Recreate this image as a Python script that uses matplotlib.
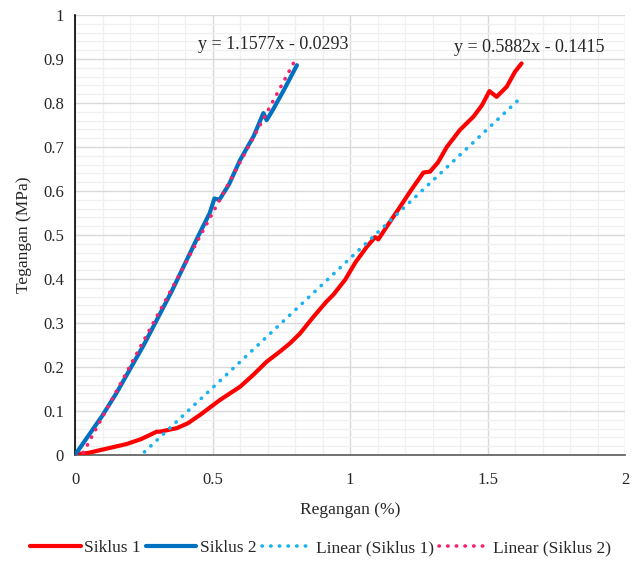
import numpy as np
import matplotlib
matplotlib.use("Agg")
import matplotlib.pyplot as plt
from matplotlib.ticker import MultipleLocator

plt.rcParams['font.family'] = ['Liberation Serif', 'DejaVu Serif']

# Siklus 1 (red)
s1_x = [0.0, 0.006, 0.05, 0.091, 0.14, 0.188, 0.24, 0.297, 0.309, 0.37, 0.41, 0.4545,
        0.527, 0.6, 0.648, 0.697, 0.745, 0.782, 0.818, 0.867, 0.915, 0.939, 0.982, 1.02,
        1.061, 1.091, 1.103, 1.14, 1.182, 1.22, 1.267, 1.291, 1.32, 1.352, 1.4, 1.449,
        1.48, 1.507, 1.533, 1.57, 1.6, 1.624]
s1_y = [0.0, 0.002, 0.005, 0.011, 0.018, 0.025, 0.036, 0.053, 0.053, 0.061, 0.072, 0.091,
        0.125, 0.155, 0.182, 0.212, 0.235, 0.254, 0.276, 0.314, 0.349, 0.364, 0.398, 0.438,
        0.473, 0.495, 0.490, 0.525, 0.564, 0.60, 0.642, 0.644, 0.665, 0.70, 0.739, 0.769,
        0.795, 0.827, 0.814, 0.837, 0.871, 0.89]

# Siklus 2 (blue)
s2_x = [0.0, 0.05, 0.1, 0.15, 0.2, 0.25, 0.3, 0.35, 0.4, 0.45, 0.49, 0.507, 0.525,
        0.56, 0.6, 0.65, 0.685, 0.697, 0.72, 0.76, 0.807]
s2_y = [0.0, 0.045, 0.09, 0.14, 0.195, 0.25, 0.31, 0.37, 0.435, 0.5, 0.55, 0.583, 0.58,
        0.615, 0.67, 0.725, 0.777, 0.761, 0.785, 0.83, 0.886]

# Trendlines (slope, intercept, x-range)
t1_slope, t1_icpt, t1_xr = 0.5882, -0.1415, (0.0, 1.624)
t2_slope, t2_icpt, t2_xr = 1.1577, -0.0293, (0.0, 0.807)
eq1_text = "y = 0.5882x - 0.1415"
eq2_text = "y = 1.1577x - 0.0293"

x_ticks = [0, 0.5, 1, 1.5, 2]
x_ticklabels = ['0', '0.5', '1', '1.5', '2']
y_ticks = [0, 0.1, 0.2, 0.3, 0.4, 0.5, 0.6, 0.7, 0.8, 0.9, 1.0]
y_ticklabels = ['0', '0.1', '0.2', '0.3', '0.4', '0.5', '0.6', '0.7', '0.8', '0.9', '1']

fig = plt.figure(figsize=(6.41, 5.66), dpi=100)
ax = fig.add_axes([75/641, 1-455/566, 550/641, 440/566])

ax.set_xlim(0, 2)
ax.set_ylim(0, 1)
ax.set_xticks(x_ticks)
ax.set_xticklabels(x_ticklabels)
ax.set_yticks(y_ticks)
ax.set_yticklabels(y_ticklabels)
ax.xaxis.set_minor_locator(MultipleLocator(0.1))
ax.yaxis.set_minor_locator(MultipleLocator(0.02))
ax.grid(which='major', color='#D9D9D9', linewidth=1.0, zorder=0)
ax.grid(which='minor', color='#F0F0F0', linewidth=1.0, zorder=0)
ax.set_axisbelow(True)
ax.tick_params(which='both', length=0, labelsize=12, colors='#262626')
ax.tick_params(axis='x', pad=12)
ax.tick_params(axis='y', pad=8)
for s in ['top', 'right']:
    ax.spines[s].set_visible(False)
ax.spines['left'].set_color('#000000')
ax.spines['left'].set_linewidth(1.2)
ax.spines['bottom'].set_color('#595959')
ax.spines['bottom'].set_linewidth(1.2)

ax.plot(s1_x, s1_y, color='#FF0000', lw=3.0, label='Siklus 1', zorder=3,
        solid_capstyle='round', solid_joinstyle='round')
ax.plot(s2_x, s2_y, color='#0070C0', lw=3.0, label='Siklus 2', zorder=3,
        solid_capstyle='round', solid_joinstyle='round')

x1 = np.array(t1_xr)
x2 = np.array(t2_xr)
ax.plot(x1, t1_slope*x1 + t1_icpt, color='#1AB2F0', lw=2.6, linestyle=(0, (0.1, 2.3)),
        dash_capstyle='round', label='Linear (Siklus 1)', zorder=4)
ax.plot(x2, t2_slope*x2 + t2_icpt, color='#F5206E', lw=2.6, linestyle=(0, (0.1, 2.3)),
        dash_capstyle='round', label='Linear (Siklus 2)', zorder=4)

ax.text(0.447, 0.934, eq2_text, fontsize=13, color='#262626', ha='left', va='center')
ax.text(1.38, 0.927, eq1_text, fontsize=13, color='#262626', ha='left', va='center')

ax.set_xlabel('Regangan (%)', fontsize=12.5, color='#262626', labelpad=10)
ax.set_ylabel('Tegangan (MPa)', fontsize=12.5, color='#262626', labelpad=8)

leg = fig.legend(loc='center', bbox_to_anchor=(0.5, 1-548/566), ncol=4, frameon=False,
                 fontsize=12.5, handlelength=2.9, columnspacing=0.3, handletextpad=0.2,
                 labelcolor='#262626')

fig.savefig('out.png', dpi=100)
